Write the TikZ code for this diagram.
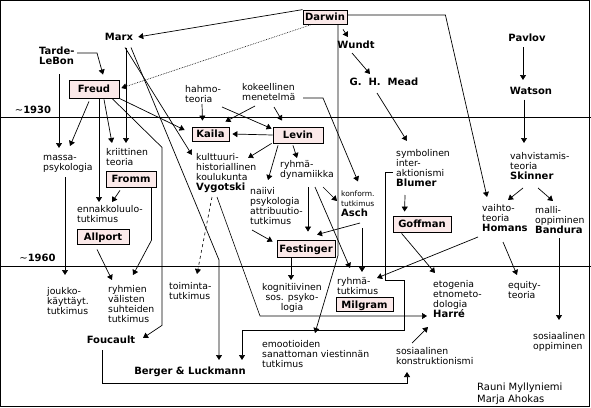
\documentclass[tikz,border=0pt]{standalone}
\usepackage{fontspec}
\setmainfont{DejaVu Sans}
\usetikzlibrary{arrows.meta,calc}
\definecolor{boxpink}{RGB}{251,233,233}
\newcommand\myNf{\fontsize{9.3}{10}\selectfont}
\newcommand\myBf{\fontsize{10}{10}\selectfont\bfseries}
\newcommand\mySt{\rule{0pt}{7pt}}
\newcommand\myBSt{\rule{0pt}{7.8pt}}
\tikzset{
  ln/.style={line width=0.7pt},
  ar/.style={ln,-{Triangle[length=5pt,width=6pt]}},
  pbox/.style={draw,line width=0.8pt,fill=boxpink,inner sep=0pt,font=\myBf,text height=7.3pt,text depth=0pt},
  lbl/.style={inner sep=0pt,anchor=north west,align=left,font=\myNf},
  blbl/.style={inner sep=0pt,anchor=base,font=\myBf},
}
\begin{document}
\begin{tikzpicture}[x=1pt,y=-1pt]
\useasboundingbox (0,0) rectangle (591,407);
\draw[line width=1pt] (0.5,0.5) rectangle (589.5,406.5);
\draw[ln] (0,117.5) -- (591,117.5);
\draw[ln] (0,266) -- (591,266);
\node[blbl] (y1930) at (33,113.5) {{\mdseries ∼}1930};
\node[blbl] (y1960) at (37.5,261.5) {{\mdseries ∼}1960};

% boxes
\node[pbox,minimum width=44pt,minimum height=14pt] (darwin) at (325,17) {Darwin};
\node[pbox,minimum width=50pt,minimum height=18pt] (freud) at (94,89) {Freud};
\node[pbox,minimum width=37pt,minimum height=14pt] (kaila) at (210.5,134) {Kaila};
\node[pbox,minimum width=50pt,minimum height=16pt] (levin) at (298,135) {Levin};
\node[pbox,minimum width=50pt,minimum height=16pt] (fromm) at (131,179) {Fromm};
\node[pbox,minimum width=52pt,minimum height=15pt] (allport) at (103,236.5) {Allport};
\node[pbox,minimum width=58pt,minimum height=16pt] (goffman) at (422,224) {Goffman};
\node[pbox,minimum width=57pt,minimum height=14pt] (milgram) at (364.5,304.5) {Milgram};
\node[pbox,minimum width=58pt,minimum height=17pt] (festinger) at (306,248.5) {Festinger};

% bold labels
\node[blbl] (marx) at (119,40.5) {Marx};
\node[blbl] (wundt) at (356,48.5) {Wundt};
\node[blbl] (mead) at (384,85.5) {G.\ \ H.\ \ Mead};
\node[blbl] (pavlov) at (527,41.5) {Pavlov};
\node[blbl] (watson) at (531,94.5) {Watson};
\node[blbl] (foucault) at (111,343.5) {Foucault};
\node[blbl] (berger) at (190,374.5) {Berger \& Luckmann};
\node[lbl,font=\myBf] (tarde) at (39,46.8) {\myBSt Tarde-\\LeBon};

% text labels
\node[lbl] (massa) at (43,153.5) {\mySt massa-\\psykologia};
\node[lbl] (kriit) at (106,148.5) {\mySt kriittinen\\teoria};
\node[lbl] (ennak) at (77,205.5) {\mySt ennakkoluulo-\\tutkimus};
\node[lbl] (joukko) at (47,287.5) {\mySt joukko-\\käyttäyt.\\tutkimus};
\node[lbl] (ryhmien) at (108,285.5) {\mySt ryhmien\\välisten\\suhteiden\\tutkimus};
\node[lbl] (toim) at (169,282.5) {\mySt toiminta-\\tutkimus};
\node[lbl] (kult) at (196,153.5) {\mySt kulttuuri-\\historiallinen\\koulukunta\\{\myBf Vygotski}};
\node[lbl] (hahmo) at (185,85.5) {\mySt hahmo-\\teoria};
\node[lbl] (kokeel) at (242,83.5) {\mySt kokeellinen\\menetelmä};
\node[lbl] (naiivi) at (250,187.5) {\mySt naiivi\\psykologia\\attribuutio-\\tutkimus};
\node[lbl] (ryhmad) at (280,160.5) {\mySt ryhmä-\\dynamiikka};
\node[lbl,font=\fontsize{7.5}{10}\selectfont] (konform) at (341,189) {\mySt konform.\\tutkimus\\{\myBf Asch}};
\node[lbl,anchor=north,align=center] (kogn) at (292,283.5) {\mySt kognitiivinen\\sos. psyko-\\logia};
\node[lbl] (ryhmat) at (337,277.5) {\mySt ryhmä-\\tutkimus};
\node[lbl] (emoot) at (262,340.5) {\mySt emootioiden\\sanattoman viestinnän\\tutkimus};
\node[lbl] (symb) at (396,149.5) {\mySt symbolinen\\inter-\\aktionismi\\{\myBf Blumer}};
\node[lbl] (etog) at (433,280.5) {\mySt etogenia\\etnometo-\\dologia\\{\myBf Harré}};
\node[lbl] (sosk) at (396,347.5) {\mySt sosiaalinen\\konstruktionismi};
\node[lbl] (vahv) at (510,152.5) {\mySt vahvistamis-\\teoria\\{\myBf Skinner}};
\node[lbl] (vaihto) at (482,204.5) {\mySt vaihto-\\teoria\\{\myBf Homans}};
\node[lbl] (malli) at (535,206.5) {\mySt malli-\\oppiminen\\{\myBf Bandura}};
\node[lbl] (equity) at (508,281.5) {\mySt equity-\\teoria};
\node[lbl] (sosopp) at (533,332.5) {\mySt sosiaalinen\\oppiminen};
\node[lbl,font=\fontsize{10}{12}\selectfont] (credits) at (477,382.2) {\rule{0pt}{7.5pt}Rauni Myllyniemi\\Marja Ahokas};

% connectors
\draw[ar] (darwin.north west) -- ([shift={(5,0)}]marx.east);
\draw[ar,densely dotted,line width=0.6pt] ([shift={(-13,0)}]darwin.south) -- ([shift={(2,-1)}]freud.east);
\draw[ar] ([shift={(18,5)}]darwin.south) -- ([shift={(-8,-11.5)}]wundt.base);
\draw[ar] ([shift={(13,0)}]darwin.south) -- ++(0,231) -- ([shift={(53,-7.5)}]emoot.north west);
\draw[ar] ([shift={(0,-2)}]darwin.east) -- ++(98,0) -- ([shift={(5,-7.5)}]vaihto.north west);
\draw[ar] ([shift={(-4,4.5)}]wundt.base) -- ([shift={(-14,-11.5)}]mead.base);
\draw[ar] ([shift={(-7,7.5)}]mead.base) -- ([shift={(11,-8.5)}]symb.north west);
\draw[ar] ([shift={(9,45.5)}]symb.north west) -- ([shift={(12,-4)}]goffman.north west);
\draw[ar] ([shift={(-3,22.5)}]symb.north west) -- ++(-8,0) -- ++(0,108) -- ++(19,0) -- ++(0,50) -- ++(-162,0) -- ([shift={(52,-14.5)}]berger.base);
\draw[ar] ([shift={(38,6.2)}]tarde.north west) -- ++(20,0) -- ([shift={(9,-5)}]freud.north);
\draw[ar] ([shift={(20,27.2)}]tarde.north west) -- ([shift={(16,-5.5)}]massa.north west);
\draw[ar] ([shift={(-5,3)}]freud.south) -- ([shift={(27,-7.5)}]massa.north west);
\draw[ar] ([shift={(5,1)}]freud.south) -- ([shift={(22,-3.5)}]ennak.north west);
\draw[ar] ([shift={(10,1)}]freud.south) -- ([shift={(6,-5.5)}]kriit.north west);
\draw[ar] ([shift={(18,0)}]freud.south) -- ++(50,49) -- ++(0,178) -- ([shift={(32,-5.5)}]foucault.base);
\draw[ar] (freud.south east) -- ([shift={(-7,-4)}]kaila.west);
\draw[ar] ([shift={(7,7)}]marx.base) -- ([shift={(20,-5.5)}]kriit.north west);
\draw[ar] ([shift={(6,7)}]marx.base) -- ([shift={(-4,1.5)}]kult.north west);
\draw[ar] ([shift={(12,7)}]marx.base) -- ++(88,212.5) -- ([shift={(29,-14.5)}]berger.base);
\draw[ar] ([shift={(17,18.5)}]hahmo.north west) -- ([shift={(-8,-6)}]kaila.north);
\draw[ar] ([shift={(37,21.5)}]hahmo.north west) -- ([shift={(-1,2)}]levin.north west);
\draw[ar] ([shift={(13,22.5)}]kokeel.north west) -- ([shift={(-4,-5)}]kaila.north east);
\draw[ar] ([shift={(32,23.5)}]kokeel.north west) -- ([shift={(-16,-6)}]levin.north);
\draw[ar] ([shift={(61,14.5)}]kokeel.north west) -- ++(20,0) -- ([shift={(17,-7.5)}]konform.north west);
\draw[ar] (levin.west) -- ([shift={(3,0)}]kaila.east);
\draw[ar] ([shift={(-1,0)}]levin.south west) -- ([shift={(52,4.5)}]kult.north west);
\draw[ar] ([shift={(-20,2)}]levin.south) -- ([shift={(18,-7.5)}]naiivi.north west);
\draw[ar] ([shift={(-5,2)}]levin.south) -- ([shift={(17,-2.5)}]ryhmad.north west);
\draw[ar] ([shift={(2,42.5)}]naiivi.north west) -- ([shift={(-4,2)}]festinger.north west);
\draw[ar] ([shift={(28,26.5)}]ryhmad.north west) -- ([shift={(2,-8)}]festinger.north);
\draw[ar] ([shift={(19,34)}]konform.north west) -- ([shift={(11,-5)}]festinger.north);
\draw[ar] ([shift={(43,26.5)}]ryhmad.north west) -- ([shift={(-4,12)}]konform.north west);
\draw[ar] ([shift={(35,26.5)}]ryhmad.north west) -- ([shift={(13,-9.5)}]ryhmat.north west);
\draw[ar] ([shift={(21,39)}]konform.north west) -- ([shift={(25,-5.5)}]ryhmat.north west);
\draw[ar] ([shift={(-15,1)}]festinger.south) -- ([shift={(-1,-3.5)}]kogn.north);
\draw[ar,dashed,line width=0.6pt] ([shift={(16,43.5)}]kult.north west) -- ([shift={(28,-8.5)}]toim.north west);
\draw[ar,line width=0.6pt] ([shift={(21,43.5)}]kult.north west) -- ++(43,119) -- ([shift={(-6,35.5)}]etog.north west);
\draw[ar] ([shift={(9,1)}]goffman.south west) -- ([shift={(2,-7.5)}]etog.north west);
\draw[ar] ([shift={(-4,32.5)}]vaihto.north west) -- ([shift={(40,0.5)}]ryhmat.north west);
\draw[ar] ([shift={(21,37.5)}]vaihto.north west) -- ([shift={(9,-6.5)}]equity.north west);
\draw[ar] ([shift={(-7,5)}]watson.base) -- ([shift={(14,-9.5)}]vahv.north west);
\draw[ar] ([shift={(-4,5.5)}]pavlov.base) -- ([shift={(-8,-14.5)}]watson.base);
\draw[ar] ([shift={(13,35.5)}]vahv.north west) -- ([shift={(26,-4.5)}]vaihto.north west);
\draw[ar] ([shift={(28,35.5)}]vahv.north west) -- ([shift={(18,-5.5)}]malli.north west);
\draw[ar] ([shift={(24,31.5)}]malli.north west) -- ([shift={(26,-12.5)}]sosopp.north west);
\draw[ar] ([shift={(16,-4.5)}]sosk.north west) -- ([shift={(-5,46.5)}]etog.north west);
\draw[ar] ([shift={(-9,6.5)}]foucault.base) -- ++(0,33) -- ++(305,0) -- ([shift={(11,24.5)}]sosk.north west);
\draw[ar] ([shift={(-6,5)}]allport.south) -- ([shift={(4,-5.5)}]ryhmien.north west);
\draw[ar] ([shift={(-11,3)}]fromm.south) -- ([shift={(35,-3.5)}]ennak.north west);
\draw[ar] ([shift={(-5,0)}]fromm.south east) -- ++(0,53) -- ([shift={(25,-10.5)}]ryhmien.north west);
\draw[ar] ([shift={(22,23.5)}]massa.north west) -- ([shift={(18,-12.5)}]joukko.north west);
\end{tikzpicture}
\end{document}
